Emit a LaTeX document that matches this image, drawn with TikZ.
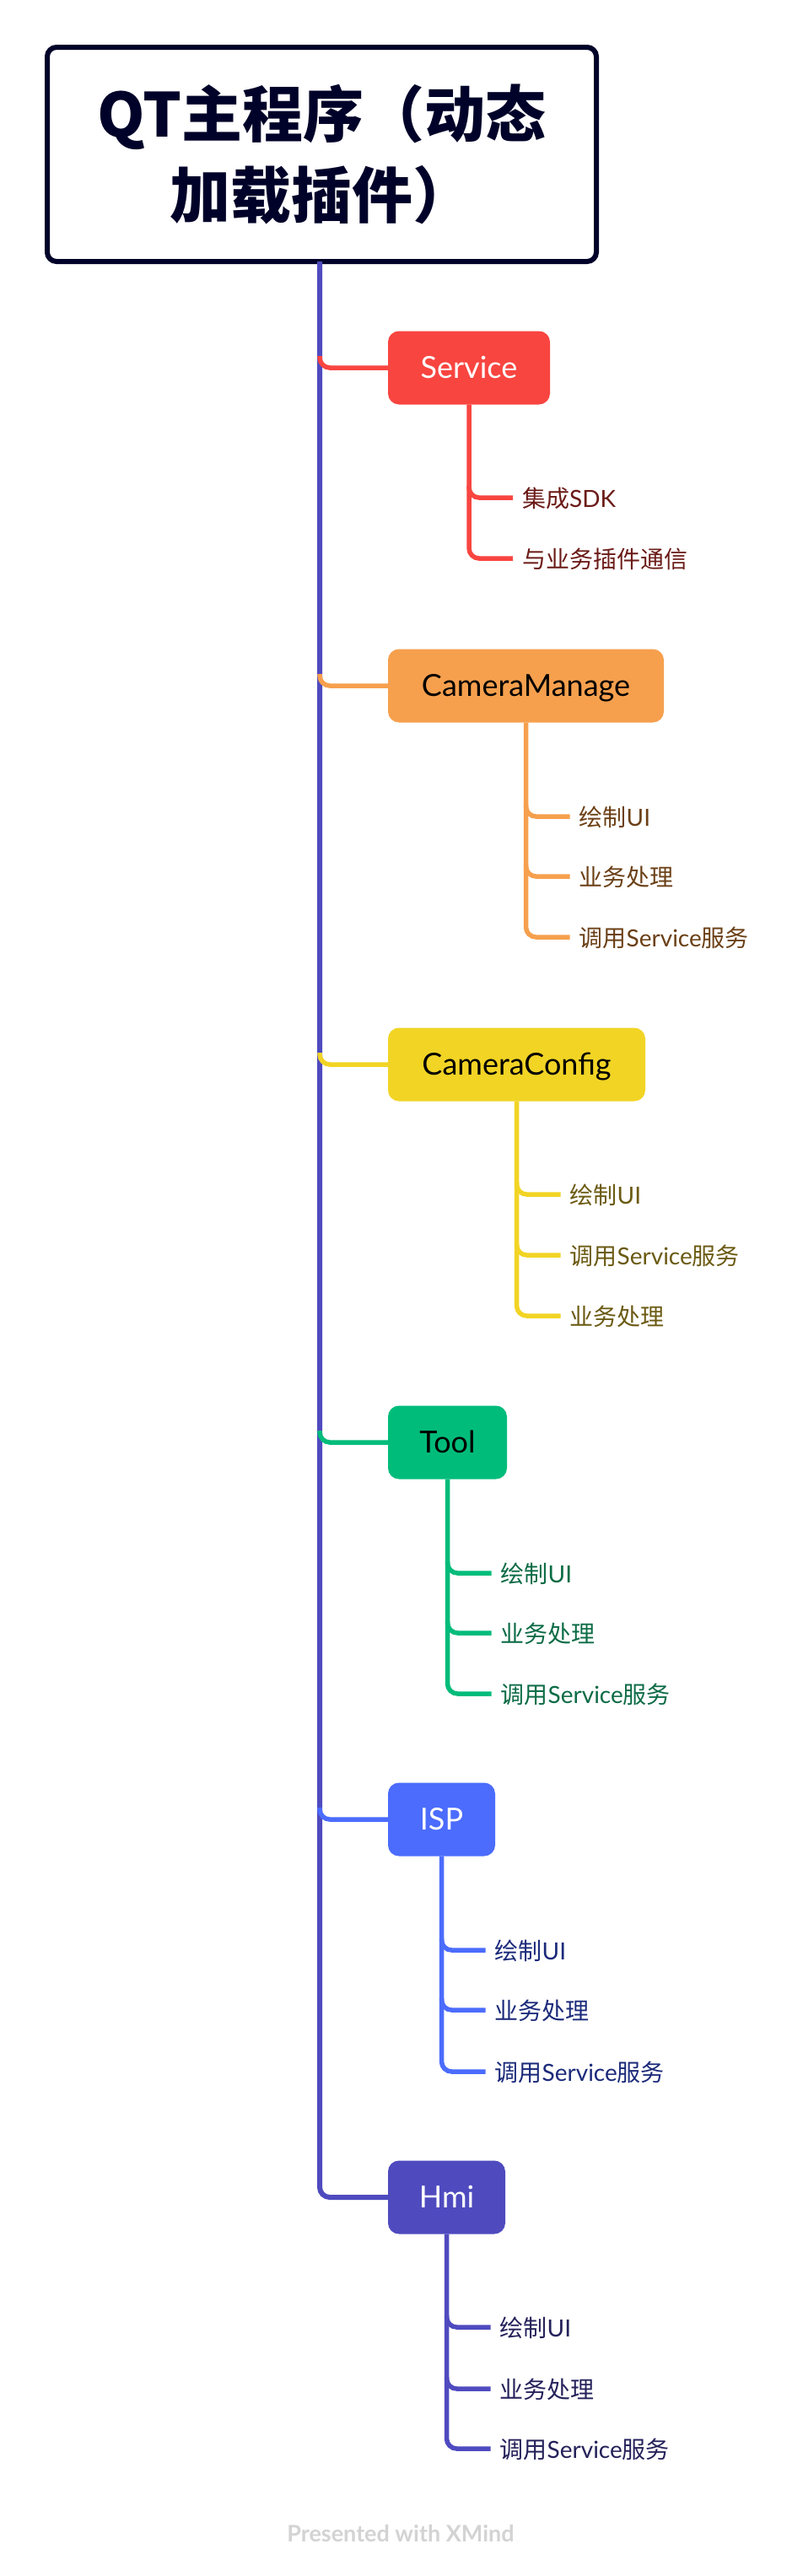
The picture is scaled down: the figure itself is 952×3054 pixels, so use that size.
\documentclass[tikz,border=0pt]{standalone}
\usepackage{fontspec}
\setmainfont{Lato}
\newfontfamily\cjk{Noto Sans CJK SC}
\usetikzlibrary{calc}
\definecolor{rootc}{HTML}{000229}
\definecolor{trunkc}{HTML}{4F4BBF}
\definecolor{svcC}{HTML}{F84540}
\definecolor{svcT}{HTML}{6B1B17}
\definecolor{cmC}{HTML}{F6A04E}
\definecolor{cmT}{HTML}{6B4016}
\definecolor{ccC}{HTML}{F2D425}
\definecolor{ccT}{HTML}{6B5A12}
\definecolor{toolC}{HTML}{00BC7B}
\definecolor{toolT}{HTML}{0B6B45}
\definecolor{ispC}{HTML}{4B6CFD}
\definecolor{ispT}{HTML}{1B2A7A}
\definecolor{hmiC}{HTML}{4F4BBF}
\definecolor{hmiT}{HTML}{24215A}
\definecolor{creditC}{HTML}{D3D3D3}
\tikzset{
  topic/.style={rounded corners=13pt, minimum height=87pt, text height=25pt, text depth=0pt,
    inner sep=0pt, font=\fontsize{36}{42}\selectfont},
  subtopic/.style={anchor=west, inner sep=0pt, text height=22pt, text depth=0pt,
    font=\fontsize{28}{34}\selectfont},
  trunkline/.style={line width=6pt, draw=trunkc, rounded corners=12pt},
  branchline/.style={line width=5.5pt, rounded corners=12pt},
}
\begin{document}
\begin{tikzpicture}[x=1pt,y=-1pt]
\useasboundingbox (0,0) rectangle (952,3054);
\fill[white] (0,0) rectangle (952,3054);

% root
\node[draw=rootc, line width=6pt, rounded corners=11pt, minimum width=651pt, minimum height=254pt,
  align=center, text=rootc, inner sep=0pt, font=\cjk\bfseries\fontsize{72}{96}\selectfont]
  (root) at (381.5,183) {QT主程序（动态\\加载插件）};
\coordinate (trunktop) at (379,310);

% Service
\node[topic, fill=svcC, text=white, minimum width=192pt] (svc) at (556,436) {Service};
\node[subtopic, text=svcT] (svc1) at (619,590) {{\cjk 集成}SDK};
\node[subtopic, text=svcT] (svc2) at (619,662) {\cjk 与业务插件通信};

% CameraManage
\node[topic, fill=cmC, text=black, minimum width=327pt] (cm) at (623.5,813) {CameraManage};
\node[subtopic, text=cmT] (cm1) at (686.5,968) {{\cjk 绘制}UI};
\node[subtopic, text=cmT] (cm2) at (686.5,1039) {\cjk 业务处理};
\node[subtopic, text=cmT] (cm3) at (686.5,1111) {{\cjk 调用}Service{\cjk 服务}};

% CameraConfig
\node[topic, fill=ccC, text=black, minimum width=305pt] (cc) at (612.5,1262) {CameraConfig};
\node[subtopic, text=ccT] (cc1) at (675.5,1416) {{\cjk 绘制}UI};
\node[subtopic, text=ccT] (cc2) at (675.5,1488) {{\cjk 调用}Service{\cjk 服务}};
\node[subtopic, text=ccT] (cc3) at (675.5,1560) {\cjk 业务处理};

% Tool
\node[topic, fill=toolC, text=black, minimum width=141pt] (tool) at (530.5,1710) {Tool};
\node[subtopic, text=toolT] (tool1) at (593.5,1865) {{\cjk 绘制}UI};
\node[subtopic, text=toolT] (tool2) at (593.5,1936) {\cjk 业务处理};
\node[subtopic, text=toolT] (tool3) at (593.5,2008) {{\cjk 调用}Service{\cjk 服务}};

% ISP
\node[topic, fill=ispC, text=white, minimum width=127pt] (isp) at (523.5,2157) {ISP};
\node[subtopic, text=ispT] (isp1) at (586.5,2312) {{\cjk 绘制}UI};
\node[subtopic, text=ispT] (isp2) at (586.5,2383) {\cjk 业务处理};
\node[subtopic, text=ispT] (isp3) at (586.5,2456) {{\cjk 调用}Service{\cjk 服务}};

% Hmi
\node[topic, fill=hmiC, text=white, minimum width=139pt] (hmi) at (529.5,2605) {Hmi};
\node[subtopic, text=hmiT] (hmi1) at (592.5,2759) {{\cjk 绘制}UI};
\node[subtopic, text=hmiT] (hmi2) at (592.5,2832) {\cjk 业务处理};
\node[subtopic, text=hmiT] (hmi3) at (592.5,2903) {{\cjk 调用}Service{\cjk 服务}};

% credit
\node[font=\bfseries\fontsize{27}{32}\selectfont, text=creditC] (credit) at (475,3004) {Presented with XMind};

% trunk and main branches
\draw[trunkline] (trunktop) |- (hmi.west);
\foreach \n/\c in {svc/svcC, cm/cmC, cc/ccC, tool/toolC, isp/ispC}{
  \draw[branchline, draw=\c] ($(trunktop |- \n.west)+(0,-14)$) |- (\n.west);
}

% sub branches
\foreach \n/\c/\last/\mids in {svc/svcC/svc2/{svc1}, cm/cmC/cm3/{cm1,cm2}, cc/ccC/cc3/{cc1,cc2},
    tool/toolC/tool3/{tool1,tool2}, isp/ispC/isp3/{isp1,isp2}, hmi/hmiC/hmi3/{hmi1,hmi2}}{
  \draw[branchline, draw=\c] (\n.south) |- ([xshift=-11pt]\last.west);
  \foreach \m in \mids {
    \draw[branchline, draw=\c] ($(\n.south |- \m.west)+(0,-14)$) |- ([xshift=-11pt]\m.west);
  }
}
\end{tikzpicture}
\end{document}
